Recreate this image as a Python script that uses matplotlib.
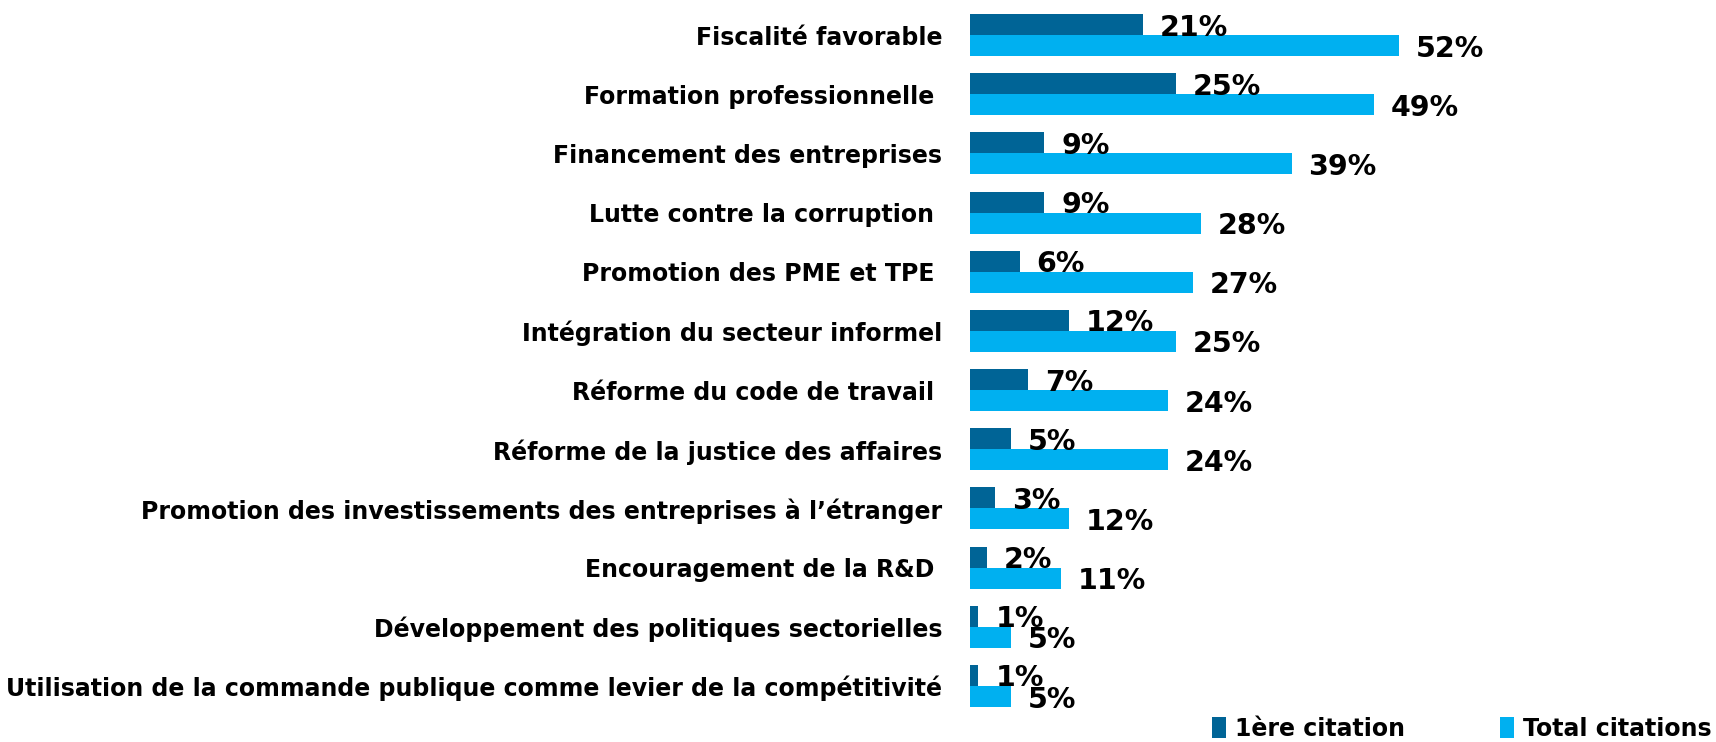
import matplotlib.pyplot as plt
import numpy as np

categories = ['Fiscalité favorable', 'Formation professionnelle ', 'Financement des entreprises',
              'Lutte contre la corruption ', 'Promotion des PME et TPE ', 'Intégration du secteur informel',
              'Réforme du code de travail ', 'Réforme de la justice des affaires',
              'Promotion des investissements des entreprises à l’étranger', 'Encouragement de la R&D ',
              'Développement des politiques sectorielles',
              'Utilisation de la commande publique comme levier de la compétitivité']
premiere = [21, 25, 9, 9, 6, 12, 7, 5, 3, 2, 1, 1]
total = [52, 49, 39, 28, 27, 25, 24, 24, 12, 11, 5, 5]
series_names = ['1ère citation', 'Total citations']

dark = '#006496'
light = '#00B0F0'
font = dict(family='DejaVu Sans', weight='bold')

fig = plt.figure(figsize=(17.16, 7.42), dpi=100)
ax = fig.add_axes([0.5653, 0.0356, 0.4347, 0.957])

y = np.arange(len(categories))
h = 0.355
b1 = ax.barh(y - h / 2, premiere, height=h, color=dark, label=series_names[0])
b2 = ax.barh(y + h / 2, total, height=h, color=light, label=series_names[1])

for i in range(len(categories)):
    ax.annotate(f'{premiere[i]}%', (premiere[i], y[i] - h / 2), xytext=(17, -3), textcoords='offset pixels',
                va='center', ha='left', fontsize=20.5, **font)
    ax.annotate(f'{total[i]}%', (total[i], y[i] + h / 2), xytext=(17, -3), textcoords='offset pixels',
                va='center', ha='left', fontsize=20.5, **font)

ax.set_xlim(0, 90.5)
ax.set_ylim(11.5, -0.5)
ax.set_yticks(y)
ax.set_yticklabels(categories, fontsize=17, **font)
ax.tick_params(axis='y', length=0, pad=20)
ax.set_xticks([])
for s in ax.spines.values():
    s.set_visible(False)

fig.legend(handles=[b1, b2], loc='center right', bbox_to_anchor=(1712 / 1716, 13 / 742), ncol=2, frameon=False,
           prop=dict(size=17, **font), handlelength=0.6, handleheight=1.0, handletextpad=0.4,
           columnspacing=4.0, borderpad=0, borderaxespad=0)

fig.savefig('out.png', dpi=100)
